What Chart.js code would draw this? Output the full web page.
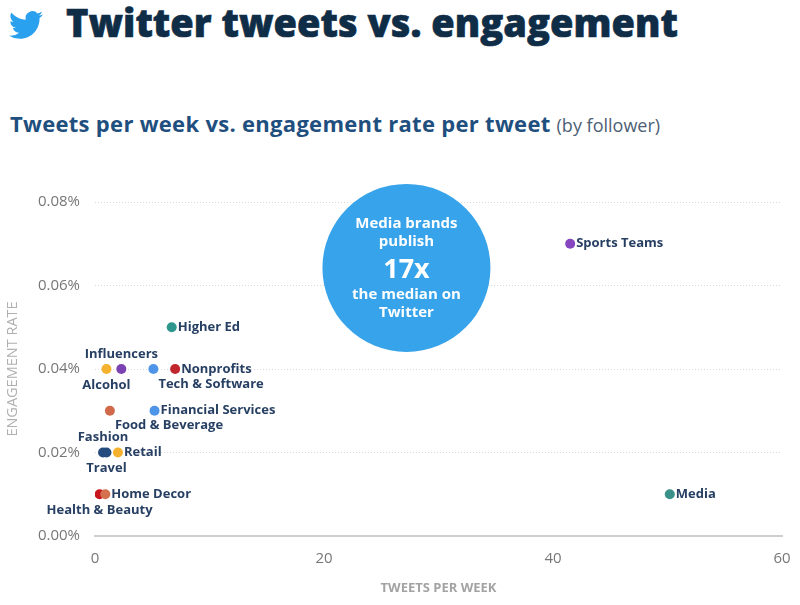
<!DOCTYPE html>
<html>
<head>
<meta charset="utf-8">
<script src="https://cdn.jsdelivr.net/npm/chart.js@4.4.1/dist/chart.umd.min.js"></script>
<style>
  body { margin: 0; background: #fff; font-family: "Open Sans", sans-serif; }
  #wrap { position: relative; width: 800px; height: 605px; overflow: hidden; }
  #bird { position: absolute; left: 9px; top: 8px; width: 34px; height: 34px; }
  #title { position: absolute; left: 66px; top: -4px; font-size: 38px; font-weight: 800; color: #0f2d46;
    white-space: nowrap; -webkit-text-stroke: 0.6px #0f2d46; }
  #subtitle { position: absolute; left: 10px; top: 108px; font-size: 22px; font-weight: 700; color: #1f4f7e;
    white-space: nowrap; letter-spacing: 0.3px; }
  #subtitle span { font-weight: 400; color: #4d6075; font-size: 18px; letter-spacing: 0; }
  #chartBox { position: absolute; left: 0; top: 150px; width: 800px; height: 455px; }
</style>
</head>
<body>
<div id="wrap">
  <svg id="bird" viewBox="0 0 24 24"><path fill="#2aa1ee" d="M23.953 4.57a10 10 0 01-2.825.775 4.958 4.958 0 002.163-2.723c-.951.555-2.005.959-3.127 1.184a4.92 4.92 0 00-8.384 4.482C7.690 8.095 4.067 6.130 1.640 3.162a4.822 4.822 0 00-.666 2.475c0 1.710.870 3.213 2.188 4.096a4.904 4.904 0 01-2.228-.616v.060a4.923 4.923 0 003.946 4.827 4.996 4.996 0 01-2.212.085 4.936 4.936 0 004.604 3.417 9.867 9.867 0 01-6.102 2.105c-.390 0-.779-.023-1.170-.067a13.995 13.995 0 007.557 2.209c9.053 0 13.998-7.496 13.998-13.985 0-.210 0-.420-.015-.630A9.935 9.935 0 0024 4.590z"/></svg>
  <div id="title">Twitter tweets vs. engagement</div>
  <div id="subtitle">Tweets per week vs. engagement rate per tweet <span>(by follower)</span></div>
  <div id="chartBox"><canvas id="scatter"></canvas></div>
</div>
<script>
// industries
const industries = ['Sports Teams', 'Media', 'Higher Ed', 'Alcohol', 'Influencers', 'Tech & Software', 'Nonprofits',
    'Food & Beverage', 'Financial Services', 'Fashion', 'Travel', 'Retail', 'Health & Beauty', 'Home Decor'];
// tweets per week
const tweetsPerWeek = [41.5, 50.2, 6.7, 1.0, 2.3, 5.1, 7.0, 1.3, 5.2, 0.7, 1.0, 2.0, 0.4, 0.9];
// engagement rate per tweet (%)
const engagementRate = [0.07, 0.01, 0.05, 0.04, 0.04, 0.04, 0.04, 0.03, 0.03, 0.02, 0.02, 0.02, 0.01, 0.01];
const xTicks = [0, 20, 40, 60];
const yTicks = [0, 0.02, 0.04, 0.06, 0.08];

const dotColors = ['#8646bf', '#3a9189', '#2e978d', '#f4b22e', '#7b42b3', '#4e95ea', '#c0272d',
    '#d06a4a', '#4e95ea', '#254c7f', '#254c7f', '#f4b22e', '#c8161d', '#d5704f'];

// where each label sits relative to its dot
const labelPlace = {
    'Sports Teams': 'right', 'Media': 'right', 'Higher Ed': 'right', 'Nonprofits': 'right',
    'Financial Services': 'right', 'Retail': 'right', 'Home Decor': 'right',
    'Alcohol': 'below', 'Influencers': 'above', 'Fashion': 'above', 'Travel': 'below',
    'Health & Beauty': 'below', 'Tech & Software': 'belowRight', 'Food & Beverage': 'belowRight'
};

// callout bubble
const callout = { x: 27.2, y: 0.0642, r: 84,
    lines: ['Media brands', 'publish', '17x', 'the median on', 'Twitter'] };

const pointLabels = {
    id: 'pointLabels',
    afterDatasetsDraw(chart) {
        const ctx = chart.ctx;
        const meta = chart.getDatasetMeta(0);
        ctx.save();
        ctx.font = 'bold 13px "Open Sans"';
        ctx.fillStyle = '#263f62';
        meta.data.forEach((pt, i) => {
            const name = industries[i];
            const place = labelPlace[name];
            let x = pt.x, y = pt.y;
            ctx.textBaseline = 'middle';
            if (place === 'right') { ctx.textAlign = 'left'; x += 6; }
            else if (place === 'above') { ctx.textAlign = 'center'; y -= 15; }
            else if (place === 'below') { ctx.textAlign = 'center'; y += 16; }
            else { ctx.textAlign = 'left'; x += 5; y += 15; }
            ctx.fillText(name, x, y);
        });
        ctx.restore();
    }
};

const bubble = {
    id: 'bubble',
    beforeDatasetsDraw(chart) {
        const ctx = chart.ctx;
        const cx = chart.scales.x.getPixelForValue(callout.x);
        const cy = chart.scales.y.getPixelForValue(callout.y);
        ctx.save();
        ctx.beginPath();
        ctx.arc(cx, cy, callout.r, 0, Math.PI * 2);
        ctx.fillStyle = '#36a3ea';
        ctx.fill();
        ctx.fillStyle = '#fff';
        ctx.textAlign = 'center';
        ctx.textBaseline = 'middle';
        const offs = [-44, -26, 2, 27, 45];
        callout.lines.forEach((t, i) => {
            ctx.font = i === 2 ? 'bold 27px "Open Sans"' : 'bold 15px "Open Sans"';
            ctx.fillText(t, cx, cy + offs[i]);
        });
        ctx.restore();
    }
};

new Chart(document.getElementById('scatter'), {
    type: 'scatter',
    data: {
        datasets: [{
            data: tweetsPerWeek.map((v, i) => ({ x: v, y: engagementRate[i] })),
            pointBackgroundColor: dotColors,
            pointBorderWidth: 0,
            pointRadius: 5
        }]
    },
    options: {
        responsive: true,
        maintainAspectRatio: false,
        animation: false,
        layout: { padding: { top: 52, right: 18, left: 0, bottom: 0 } },
        plugins: { legend: { display: false }, tooltip: { enabled: false } },
        scales: {
            x: {
                min: 0, max: 60,
                afterBuildTicks: s => { s.ticks = xTicks.map(v => ({ value: v })); },
                afterFit: s => { s.height = 69; },
                grid: { display: false },
                border: { display: true, color: '#cfcfcf', width: 2 },
                ticks: { color: '#777', font: { family: 'Open Sans', size: 15 }, padding: 6 },
                title: { display: true, text: 'TWEETS PER WEEK', color: '#a3a3a3',
                    font: { family: 'Open Sans', size: 13, weight: 'bold' }, padding: { top: 4, bottom: 9 } }
            },
            y: {
                min: 0, max: 0.08,
                afterBuildTicks: s => { s.ticks = yTicks.map(v => ({ value: v })); },
                afterFit: s => { s.width = 95; },
                grid: { color: '#d9d9d9', borderDash: [1, 2], drawTicks: false },
                border: { display: false, dash: [1, 2] },
                ticks: { color: '#777', font: { family: 'Open Sans', size: 15 }, padding: 15,
                    callback: v => v.toFixed(2) + '%' },
                title: { display: true, text: 'ENGAGEMENT RATE', color: '#b0b0b0',
                    font: { family: 'Open Sans', size: 14.5 }, padding: { top: 4, bottom: 0 } }
            }
        }
    },
    plugins: [bubble, pointLabels]
});
</script>
</body>
</html>
